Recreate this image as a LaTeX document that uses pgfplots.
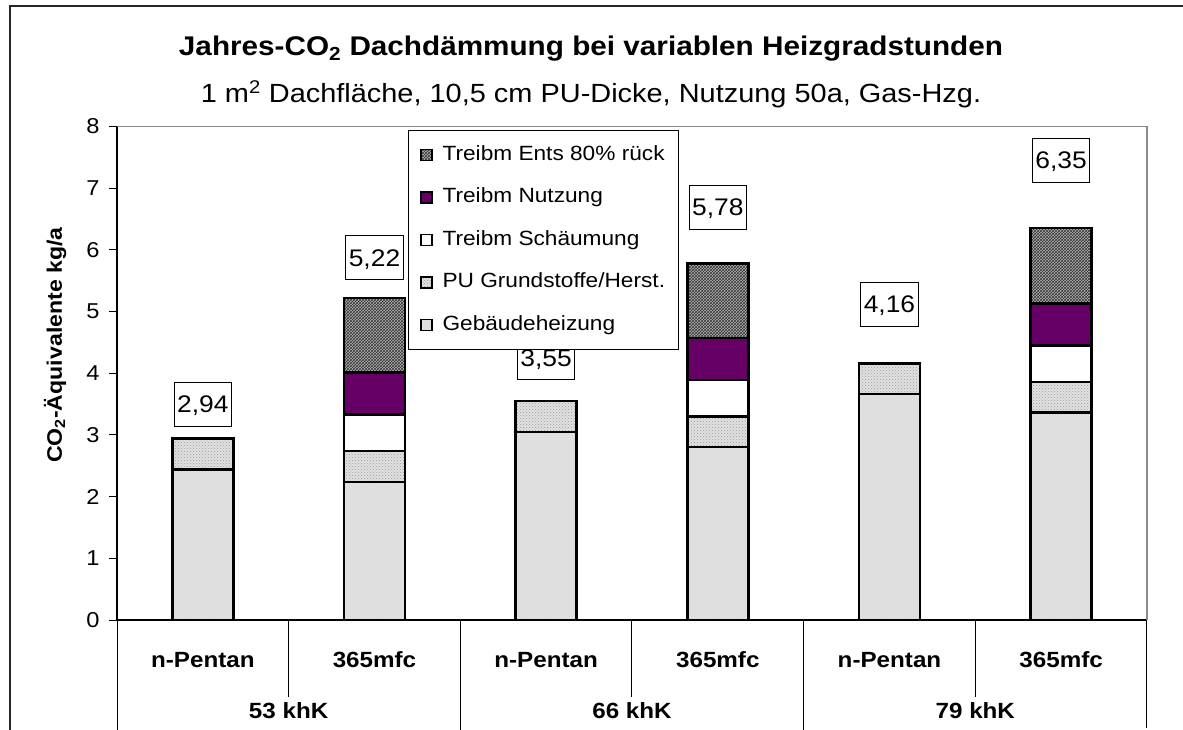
\documentclass[border=0pt]{standalone}
\usepackage{fontspec}
\setmainfont{Liberation Sans}[FakeStretch=1.1]
\usepackage{pgfplots}
\pgfplotsset{compat=1.18}
\usetikzlibrary{patterns}
\definecolor{geb}{HTML}{DEDEDE}
\definecolor{pu}{HTML}{E2E2E2}
\definecolor{entsbg}{HTML}{B4B4B4}
\definecolor{nutz}{HTML}{660066}
\definecolor{framegray}{HTML}{8A8A8A}
\newcommand\titlefont{\fontsize{27}{31}\selectfont\bfseries}
\newcommand\subfont{\fontsize{26.3}{30}\selectfont}
\newcommand\tickfont{\fontsize{21.5}{25}\selectfont}
\newcommand\legfont{\fontsize{20.6}{25}\selectfont}
\newcommand\lblfont{\fontsize{24}{28}\selectfont}
\newcommand\catfont{\fontsize{22}{26}\selectfont\bfseries}
\newcommand\ylfont{\fontsize{21}{25}\selectfont\bfseries}
\tikzset{vlbl/.style={draw=black, line width=0.8pt, fill=white, font=\lblfont, inner xsep=3pt, inner ysep=0pt,
     minimum height=44pt, text height=17pt, text depth=0pt},
  catl/.style={font=\catfont}}
\begin{document}
\begin{tikzpicture}[x=1pt,y=1pt]
\useasboundingbox (0,0) rectangle (1183,729);
\draw[line width=2pt, black!85] (10,-5) -- (10,723) -- (1190,723);
\node[font=\titlefont] at (591,680) {Jahres-CO\textsubscript{2} Dachdämmung bei variablen Heizgradstunden};
\node[font=\subfont] at (591,635) {1 m\textsuperscript{2} Dachfläche, 10,5 cm PU-Dicke, Nutzung 50a, Gas-Hzg.};
\begin{axis}[at={(117pt,109pt)}, anchor=south west, scale only axis,
  width=1030pt, height=493.6pt,
  ybar stacked, bar width=61pt,
  xmin=-0.5, xmax=5.5, ymin=0, ymax=8,
  axis lines=left, axis line style={-, line width=1.2pt, black},
  xtick=\empty, ytick={0,1,...,8},
  tick align=outside, major tick length=8pt,
  ytick style={black, line width=1pt},
  yticklabel style={font=\tickfont, xshift=-6pt},
  /pgf/number format/assume math mode=true,
  clip=false,
  reverse legend,
  legend cell align=left,
  legend style={at={(0.2825,0.9927)}, anchor=north west, draw=black, line width=0.8pt,
    font=\legfont, inner xsep=12pt, inner ysep=14pt, row sep=21.5pt,
    nodes={inner sep=1pt, text height=15pt, text depth=4pt},
    /tikz/every odd column/.append style={column sep=9pt}},
  legend image code/.code={\draw[#1, line width=1.2pt] (0pt,-5.5pt) rectangle (11pt,5.5pt);},
  every axis plot/.append style={draw=black, line width=2.4pt},
]
\addplot[fill=geb, postaction={pattern=vertical lines, pattern color=black!12}] coordinates {(0,2.44) (1,2.24) (2,3.05) (3,2.80) (4,3.66) (5,3.36)};
\addlegendentry{Gebäudeheizung}
\addplot[fill=pu, postaction={pattern=crosshatch dots, pattern color=black!40}] coordinates {(0,0.50) (1,0.50) (2,0.50) (3,0.50) (4,0.50) (5,0.50)};
\addlegendentry{PU Grundstoffe/Herst.}
\addplot[fill=white] coordinates {(0,0) (1,0.59) (2,0) (3,0.59) (4,0) (5,0.59)};
\addlegendentry{Treibm Schäumung}
\addplot[fill=nutz] coordinates {(0,0) (1,0.68) (2,0) (3,0.68) (4,0) (5,0.68)};
\addlegendentry{Treibm Nutzung}
\addplot[fill=entsbg, postaction={pattern=crosshatch, pattern color=black!80}] coordinates {(0,0) (1,1.21) (2,0) (3,1.21) (4,0) (5,1.22)};
\addlegendentry{Treibm Ents 80\% rück}
% y label
\node[rotate=90, anchor=base west, font=\ylfont, inner sep=0pt]
  at (axis description cs:-0.0534,0.318) {CO\textsubscript{2}-Äquivalente kg/a};
% frame top/right
\draw[framegray, line width=1.5pt] (axis cs:-0.5,8) -- (axis cs:5.5,8) -- (axis cs:5.5,0);
% category table
\draw[black, line width=1pt] (axis cs:-0.5,0) -- (axis cs:-0.5,-1.9);
\draw[black, line width=1pt] (axis cs:5.5,0) -- (axis cs:5.5,-1.75);
\draw[black, line width=1pt] (axis cs:1.5,0) -- (axis cs:1.5,-1.9);
\draw[black, line width=1pt] (axis cs:3.5,0) -- (axis cs:3.5,-1.9);
\draw[black, line width=1pt] (axis cs:0.5,0) -- (axis cs:0.5,-1.25);
\draw[black, line width=1pt] (axis cs:2.5,0) -- (axis cs:2.5,-1.25);
\draw[black, line width=1pt] (axis cs:4.5,0) -- (axis cs:4.5,-1.25);
\node[catl] at (axis cs:0,-0.648) {n-Pentan};
\node[catl] at (axis cs:1,-0.648) {365mfc};
\node[catl] at (axis cs:2,-0.648) {n-Pentan};
\node[catl] at (axis cs:3,-0.648) {365mfc};
\node[catl] at (axis cs:4,-0.648) {n-Pentan};
\node[catl] at (axis cs:5,-0.648) {365mfc};
\node[catl] at (axis cs:0.5,-1.47) {53 khK};
\node[catl] at (axis cs:2.5,-1.47) {66 khK};
\node[catl] at (axis cs:4.5,-1.47) {79 khK};
% value labels
\node[vlbl] at (axis cs:0,3.50) {2,94};
\node[vlbl] at (axis cs:1,5.87) {5,22};
\node[vlbl] at (axis cs:2,4.25) {3,55};
\node[vlbl] at (axis cs:3,6.69) {5,78};
\node[vlbl] at (axis cs:4,5.12) {4,16};
\node[vlbl] at (axis cs:5,7.45) {6,35};
\end{axis}
\end{tikzpicture}
\end{document}
